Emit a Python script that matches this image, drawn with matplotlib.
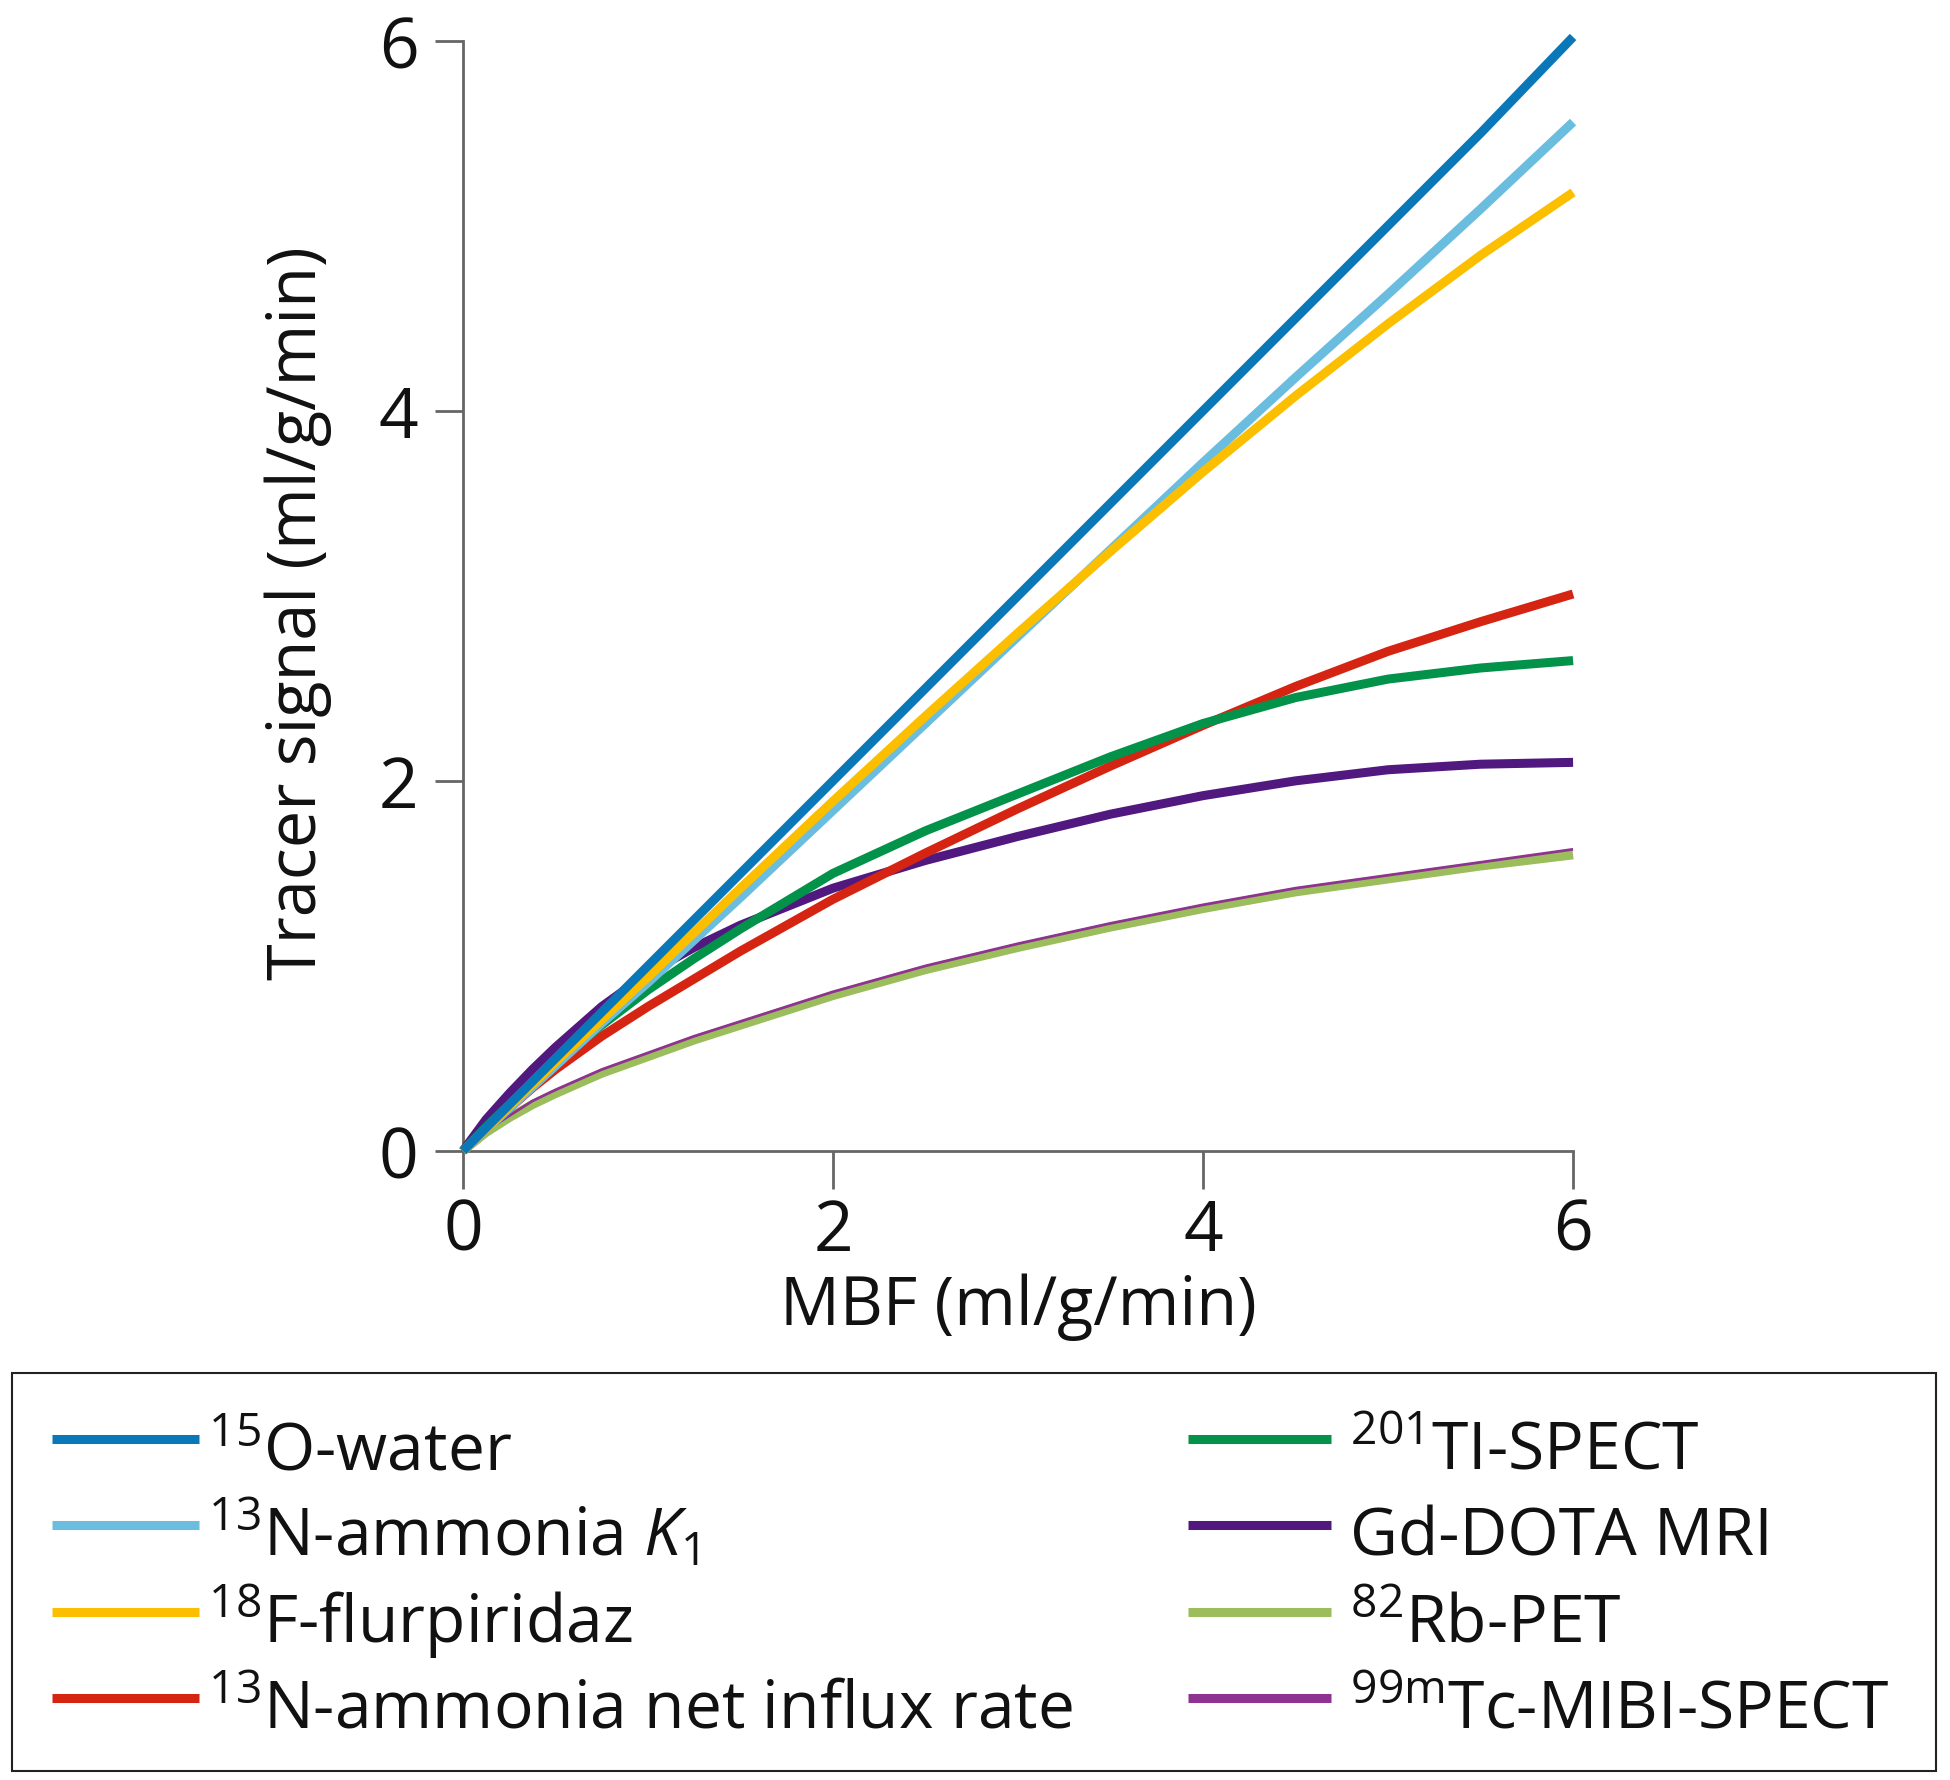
import matplotlib
matplotlib.use("Agg")
import matplotlib.pyplot as plt
from matplotlib.lines import Line2D
from matplotlib.patches import Rectangle

# ---------------- data ----------------
mbf = [0, 0.125, 0.25, 0.375, 0.5, 0.75, 1.0, 1.25, 1.5, 2.0, 2.5, 3.0, 3.5, 4.0, 4.5, 5.0, 5.5, 6.0]
o15_water = [0, 0.125, 0.25, 0.375, 0.50, 0.75, 1.00, 1.25, 1.50, 2.00, 2.50, 3.00, 3.50, 4.00, 4.50, 5.00, 5.50, 6.02]
n13_k1 = [0, 0.115, 0.23, 0.345, 0.46, 0.69, 0.91, 1.14, 1.37, 1.84, 2.31, 2.78, 3.25, 3.72, 4.18, 4.63, 5.09, 5.56]
f18_flurpiridaz = [0, 0.12, 0.24, 0.36, 0.48, 0.71, 0.94, 1.18, 1.42, 1.89, 2.35, 2.80, 3.24, 3.67, 4.08, 4.47, 4.84, 5.18]
n13_net_influx = [0, 0.12, 0.23, 0.34, 0.44, 0.62, 0.78, 0.93, 1.08, 1.36, 1.61, 1.85, 2.08, 2.30, 2.51, 2.70, 2.86, 3.01]
tl201_spect = [0, 0.13, 0.25, 0.37, 0.48, 0.68, 0.87, 1.04, 1.20, 1.50, 1.73, 1.93, 2.13, 2.31, 2.45, 2.55, 2.61, 2.65]
gd_dota_mri = [0, 0.17, 0.31, 0.44, 0.56, 0.78, 0.96, 1.10, 1.22, 1.42, 1.57, 1.70, 1.82, 1.92, 2.00, 2.06, 2.09, 2.10]
rb82_pet = [0, 0.10, 0.18, 0.25, 0.31, 0.42, 0.51, 0.60, 0.68, 0.84, 0.98, 1.10, 1.21, 1.31, 1.40, 1.47, 1.54, 1.60]
tc99m_mibi = [0, 0.11, 0.19, 0.27, 0.33, 0.44, 0.53, 0.62, 0.70, 0.86, 1.00, 1.12, 1.23, 1.33, 1.42, 1.49, 1.56, 1.63]

labels = [r"$^{15}$O-water",
          r"$^{13}$N-ammonia $K_{1}$",
          r"$^{18}$F-flurpiridaz",
          r"$^{13}$N-ammonia net influx rate",
          r"$^{201}$TI-SPECT",
          "Gd-DOTA MRI",
          r"$^{82}$Rb-PET",
          r"$^{99\mathrm{m}}$Tc-MIBI-SPECT"]
x_ticks = [0, 2, 4, 6]
y_ticks = [0, 2, 4, 6]
x_label = "MBF (ml/g/min)"
y_label = "Tracer signal (ml/g/min)"

colors = ["#0a78b8", "#6bbde0", "#fcbf00", "#d52512",
          "#03924a", "#51197f", "#9bbd5c", "#8f3390"]

FONT = "Open Sans"
plt.rcParams["font.family"] = [FONT, "DejaVu Sans"]
plt.rcParams["mathtext.fontset"] = "custom"
plt.rcParams["mathtext.rm"] = FONT
plt.rcParams["mathtext.it"] = FONT + ":italic"
plt.rcParams["mathtext.bf"] = FONT + ":bold"

W, H = 1950, 1781
fig = plt.figure(figsize=(W / 100, H / 100), dpi=100)
ax = fig.add_axes([0.2374, 0.3532, 0.5693, 0.6234])

series = [o15_water, n13_k1, f18_flurpiridaz, n13_net_influx,
          tl201_spect, gd_dota_mri, rb82_pet, tc99m_mibi]
zorders = [9, 7, 8, 5, 6, 4, 3, 3.5]
lw = 6.5
for i, (ys, c, z) in enumerate(zip(series, colors, zorders)):
    w = 2.0 if i == 7 else lw
    ax.plot(mbf, ys, color=c, lw=w, zorder=z, clip_on=False,
            solid_capstyle="butt", solid_joinstyle="round")

ax.set_xlim(0, 6)
ax.set_ylim(0, 6)
ax.set_xticks(x_ticks)
ax.set_yticks(y_ticks)
for s in ["top", "right"]:
    ax.spines[s].set_visible(False)
for s in ["left", "bottom"]:
    ax.spines[s].set_color("#666666")
    ax.spines[s].set_linewidth(2)
ax.tick_params(axis="y", length=20, width=2, color="#666666", pad=12,
               labelsize=50, labelcolor="#111111")
ax.tick_params(axis="x", length=27, width=2, color="#666666", pad=6,
               labelsize=50, labelcolor="#111111")
ax.set_xlabel(x_label, fontsize=48, color="#111111", labelpad=4)
ax.set_ylabel(y_label, fontsize=48, color="#111111")
ax.yaxis.set_label_coords(-0.118, 0.485)

# ---------------- legend (two columns, boxed) ----------------
def fx(px):
    return px / W

def fy(py):
    return 1 - py / H

row_y = [1440, 1526, 1613, 1699]
handle_x = [(52, 199), (1188, 1331)]
text_x = [208, 1350]
fig.add_artist(Rectangle((fx(12), fy(1772)), fx(1936) - fx(12), fy(1374) - fy(1772),
                         transform=fig.transFigure, fill=False,
                         edgecolor="#222222", lw=1.5))
for k, (lab, c) in enumerate(zip(labels, colors)):
    col, row = divmod(k, 4)
    y = row_y[row]
    x0, x1 = handle_x[col]
    fig.add_artist(Line2D([fx(x0), fx(x1)], [fy(y), fy(y)], transform=fig.transFigure,
                          color=c, lw=lw, solid_capstyle="butt"))
    fig.text(fx(text_x[col]), fy(y + 30), lab, fontsize=47.5, color="#111111",
             va="baseline", ha="left")

fig.savefig("out.png", dpi=100, facecolor="white")
